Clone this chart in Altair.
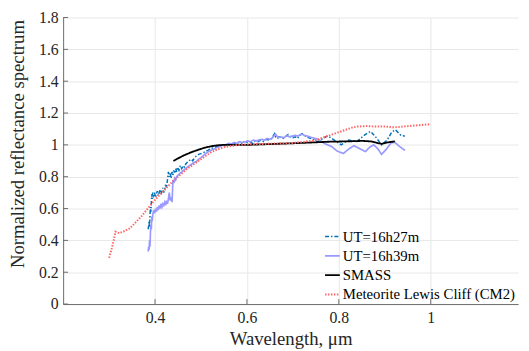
import altair as alt
import pandas as pd

# ---------------- data ----------------
blue_x = [0.385,0.386,0.387,0.388,0.389,0.390,0.391,0.392,0.393,0.394,
          0.395,0.397,0.399,0.401,0.403,0.405,0.407,0.409,0.411,0.413,
          0.415,0.417,0.419,0.421,0.423,0.425,0.427,0.429,0.431,0.433,
          0.435,0.437,0.439,0.441,0.443,0.445,0.447,0.449,0.452,0.455,
          0.458,0.461,0.464,0.467,0.470,0.474,0.478,0.482,0.486,0.490,
          0.495,0.500,0.505,0.510,0.515,0.520,0.525,0.530,0.535,0.540,
          0.546,0.552,0.558,0.564,0.570,0.576,0.582,0.588,0.594,0.600,
          0.606,0.612,0.618,0.624,0.630,0.636,0.642,0.648,0.654,0.660,
          0.663,0.666,0.670,0.675,0.680,0.685,0.690,0.695,0.700,0.705,
          0.710,0.715,0.720,0.725,0.730,0.735,0.740,0.747,0.754,0.765,
          0.776,0.790,0.805,0.815,0.822,0.830,0.839,0.855,0.869,0.880,
          0.893,0.905,0.915,0.923,0.935,0.944]
blue_y = [0.47,0.49,0.52,0.48,0.56,0.61,0.58,0.64,0.69,0.66,
          0.70,0.68,0.70,0.67,0.69,0.71,0.68,0.70,0.72,0.69,
          0.71,0.73,0.70,0.72,0.75,0.73,0.78,0.83,0.80,0.82,
          0.79,0.83,0.81,0.84,0.82,0.85,0.83,0.86,0.84,0.87,
          0.85,0.87,0.86,0.88,0.89,0.90,0.91,0.90,0.92,0.93,
          0.94,0.945,0.95,0.96,0.965,0.975,0.98,0.985,0.99,0.995,
          1.0,0.995,1.005,1.0,1.01,1.005,1.015,1.01,1.02,1.015,
          1.02,1.01,1.025,1.02,1.03,1.02,1.035,1.03,1.04,1.07,
          1.045,1.04,1.05,1.045,1.04,1.055,1.065,1.05,1.045,1.05,
          1.04,1.06,1.07,1.06,1.05,1.045,1.04,1.03,1.02,1.04,
          1.057,1.03,1.0,1.02,1.03,1.025,1.02,1.06,1.085,1.05,
          1.0,1.03,1.08,1.095,1.06,1.055]

purple_x = [0.385,0.386,0.387,0.388,0.389,0.390,0.391,0.392,0.393,0.394,
            0.395,0.397,0.399,0.401,0.403,0.405,0.407,0.409,0.411,0.413,
            0.415,0.417,0.419,0.421,0.423,0.425,0.427,0.429,0.431,0.433,
            0.435,0.437,0.439,0.441,0.443,0.445,0.447,0.450,0.454,0.458,
            0.462,0.466,0.470,0.475,0.480,0.485,0.490,0.495,0.500,0.506,
            0.512,0.518,0.524,0.530,0.536,0.542,0.548,0.554,0.560,0.566,
            0.572,0.578,0.584,0.590,0.596,0.602,0.608,0.614,0.620,0.626,
            0.632,0.638,0.644,0.650,0.656,0.662,0.668,0.674,0.680,0.687,
            0.693,0.699,0.705,0.711,0.719,0.725,0.731,0.737,0.743,0.750,
            0.758,0.769,0.784,0.797,0.810,0.822,0.833,0.846,0.858,0.867,
            0.876,0.885,0.893,0.904,0.914,0.922,0.932,0.944]
purple_y = [0.33,0.36,0.34,0.40,0.36,0.45,0.50,0.47,0.55,0.52,
            0.56,0.59,0.57,0.60,0.58,0.61,0.59,0.62,0.60,0.63,
            0.61,0.63,0.62,0.64,0.62,0.65,0.63,0.66,0.70,0.65,
            0.67,0.64,0.78,0.76,0.79,0.78,0.80,0.81,0.82,0.83,
            0.84,0.85,0.86,0.87,0.88,0.89,0.895,0.91,0.92,0.935,
            0.95,0.96,0.97,0.975,0.985,0.99,1.0,1.0,1.01,1.005,
            1.015,1.01,1.02,1.015,1.02,1.025,1.02,1.03,1.025,1.03,
            1.035,1.03,1.04,1.035,1.045,1.068,1.045,1.05,1.045,1.057,
            1.05,1.055,1.06,1.055,1.068,1.06,1.055,1.05,1.045,1.04,
            1.03,1.008,0.99,0.96,0.946,0.975,0.995,0.975,0.958,0.985,
            1.0,0.975,0.94,0.975,1.014,1.015,0.99,0.965]

smass_x = [0.440,0.450,0.460,0.470,0.480,0.490,0.500,0.510,0.520,0.530,
           0.540,0.550,0.570,0.600,0.630,0.660,0.700,0.740,0.780,0.820,
           0.850,0.870,0.880,0.893,0.905,0.922]
smass_y = [0.899,0.915,0.930,0.943,0.955,0.965,0.975,0.983,0.990,0.995,
           0.998,1.000,1.000,1.000,1.003,1.006,1.010,1.015,1.020,1.022,
           1.025,1.022,1.015,1.006,1.015,1.022]

met_x = [0.300,0.305,0.310,0.314,0.318,0.322,0.326,0.330,0.335,0.340,
         0.345,0.350,0.360,0.370,0.380,0.390,0.400,0.410,0.420,0.430,
         0.440,0.450,0.460,0.470,0.480,0.490,0.500,0.510,0.520,0.530,
         0.540,0.550,0.560,0.580,0.600,0.620,0.640,0.660,0.680,0.700,
         0.720,0.740,0.750,0.760,0.770,0.780,0.790,0.800,0.810,0.820,
         0.830,0.840,0.860,0.880,0.900,0.920,0.940,0.960,0.980,1.000]
met_y = [0.29,0.34,0.40,0.455,0.45,0.445,0.45,0.455,0.46,0.47,
         0.475,0.49,0.52,0.55,0.585,0.62,0.655,0.685,0.715,0.745,
         0.775,0.80,0.825,0.85,0.87,0.89,0.91,0.93,0.95,0.965,
         0.975,0.985,0.99,1.0,1.003,1.005,1.006,1.008,1.01,1.012,
         1.018,1.025,1.03,1.04,1.05,1.06,1.07,1.08,1.09,1.10,
         1.11,1.115,1.118,1.115,1.115,1.11,1.115,1.12,1.125,1.13]

series_names = ["UT=16h27m", "UT=16h39m", "SMASS", "Meteorite Lewis Cliff (CM2)"]
series_colors = ["#0072BD", "#9999FF", "#000000", "#FF6666"]
series_widths = [1.5, 2.0, 1.6, 1.2]
series_dashes = [[4, 2, 1.5, 2], [1, 0], [1, 0], [1.5, 1.5]]

x_ticks = [0.4, 0.6, 0.8, 1.0]
y_ticks = [0, 0.2, 0.4, 0.6, 0.8, 1.0, 1.2, 1.4, 1.6, 1.8]

frames = []
for name, xs, ys in zip(series_names,
                        [blue_x, purple_x, smass_x, met_x],
                        [blue_y, purple_y, smass_y, met_y]):
    frames.append(pd.DataFrame({"wl": xs, "r": ys, "series": name}))
df = pd.concat(frames, ignore_index=True)
df["idx"] = range(len(df))

FONT = "Liberation Serif"
AXC = "#6b6b6b"
W, H = 462, 291

xscale = alt.Scale(domain=[0.2, 1.19], nice=False, zero=False)
yscale = alt.Scale(domain=[0, 1.8], nice=False)

x_axis = alt.Axis(values=x_ticks, format=".1~f", title="Wavelength, μm",
                  titleY=41, titleBaseline="alphabetic",
                  labelFont=FONT, labelFontSize=16, labelOverlap=False,
                  labelPadding=6)
y_axis = alt.Axis(values=y_ticks, format=".1~f",
                  title="Normalized reflectance spectrum",
                  titleX=-46, titleY=128, titleBaseline="middle",
                  labelFont=FONT, labelFontSize=16, labelOverlap=False,
                  labelPadding=5)

lines = alt.Chart(df).mark_line(clip=True).encode(
    x=alt.X("wl:Q", scale=xscale, axis=x_axis),
    y=alt.Y("r:Q", scale=yscale, axis=y_axis),
    color=alt.Color("series:N", scale=alt.Scale(domain=series_names, range=series_colors),
                    legend=alt.Legend(title=None)),
    strokeDash=alt.StrokeDash("series:N", scale=alt.Scale(domain=series_names, range=series_dashes),
                              legend=alt.Legend(title=None)),
    strokeWidth=alt.StrokeWidth("series:N", scale=alt.Scale(domain=series_names, range=series_widths),
                                legend=alt.Legend(title=None)),
    order="idx:Q",
)

ytick_rules = alt.Chart(pd.DataFrame({"v": y_ticks})).mark_rule(color=AXC, strokeWidth=1).encode(
    y=alt.Y("v:Q", scale=yscale, axis=y_axis),
    x=alt.value(0), x2=alt.value(5),
)
xtick_rules = alt.Chart(pd.DataFrame({"v": x_ticks})).mark_rule(color=AXC, strokeWidth=1).encode(
    x=alt.X("v:Q", scale=xscale, axis=x_axis),
    y=alt.value(H), y2=alt.value(H - 5),
)

chart = alt.layer(lines, ytick_rules, xtick_rules).properties(
    width=W, height=H,
    autosize=alt.AutoSizeParams(type="none"),
    padding={"left": 56, "top": 7, "right": 3, "bottom": 45},
    background="white",
).configure_view(stroke=None).configure_axis(
    labelFont=FONT, labelFontSize=16, labelColor="#262626",
    titleFont=FONT, titleFontSize=19, titleFontWeight="normal", titleColor="#262626",
    domainColor=AXC, domainWidth=1, ticks=False,
    gridColor="#e8e8e8", gridWidth=1,
).configure_legend(
    orient="none", legendX=265, legendY=214, padding=0,
    labelFont=FONT, labelFontSize=15, labelColor="#000000", labelOffset=2,
    labelLimit=400,
    symbolType="stroke", symbolSize=225, rowPadding=2.6,
)

chart.save("out.html", embed_options={"renderer": "svg", "actions": False})
